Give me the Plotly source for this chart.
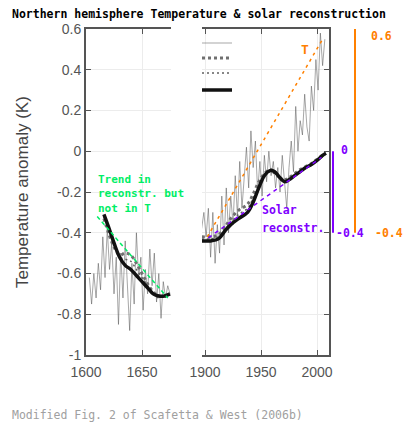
import plotly.graph_objects as go

# ---------------- data ----------------
left_t_years = list(range(1603, 1676, 2))
left_t_vals = [-0.62, -0.75, -0.60, -0.72, -0.55, -0.68, -0.42, -0.62, -0.38, -0.58,
               -0.45, -0.70, -0.52, -0.85, -0.50, -0.72, -0.44, -0.66, -0.88, -0.55,
               -0.75, -0.40, -0.62, -0.52, -0.78, -0.58, -0.70, -0.48, -0.66, -0.50,
               -0.74, -0.60, -0.82, -0.64, -0.72, -0.66, -0.70]

right_t_years = list(range(1897, 2008, 2))
right_t_vals = [-0.38, -0.30, -0.42, -0.28, -0.52, -0.30, -0.55, -0.36, -0.50, -0.22,
                -0.46, -0.18, -0.40, -0.22, -0.36, -0.12, -0.32, -0.05, -0.28, -0.10,
                0.02, -0.18, 0.10, -0.08, 0.05, -0.20, -0.05, -0.22, -0.02, -0.15,
                0.00, -0.12, -0.05, -0.18, -0.08, -0.20, -0.02, -0.15, -0.28, -0.08,
                0.05, -0.10, 0.22, 0.00, 0.15, 0.08, 0.28, 0.12, 0.05, 0.32,
                0.20, 0.45, 0.30, 0.58, 0.42, 0.55]

left_rec_years = [1616, 1620, 1625, 1630, 1635, 1640, 1645, 1650, 1655, 1660, 1665, 1670, 1675]
left_rec_solid = [-0.31, -0.37, -0.45, -0.52, -0.56, -0.58, -0.61, -0.64, -0.67, -0.70, -0.71, -0.71, -0.70]
left_rec_dense = [-0.33, -0.40, -0.47, -0.51, -0.50, -0.51, -0.55, -0.60, -0.65, -0.69, -0.71, -0.71, -0.70]
left_rec_sparse = [-0.32, -0.39, -0.46, -0.52, -0.53, -0.54, -0.58, -0.62, -0.66, -0.70, -0.72, -0.71, -0.70]

right_rec_years = [1897, 1905, 1912, 1918, 1923, 1930, 1938, 1943, 1948, 1953, 1958, 1962,
                   1967, 1971, 1975, 1980, 1985, 1990, 1995, 2000, 2005, 2008]
right_rec_solid = [-0.44, -0.44, -0.43, -0.39, -0.36, -0.33, -0.30, -0.25, -0.18, -0.12, -0.095, -0.10,
                   -0.13, -0.15, -0.14, -0.12, -0.10, -0.08, -0.065, -0.045, -0.02, -0.01]
right_rec_dense = [-0.42, -0.42, -0.41, -0.37, -0.33, -0.29, -0.26, -0.21, -0.15, -0.11, -0.09, -0.10,
                   -0.13, -0.14, -0.13, -0.11, -0.09, -0.075, -0.06, -0.04, -0.02, -0.01]
right_rec_sparse = [-0.43, -0.43, -0.42, -0.38, -0.35, -0.31, -0.28, -0.23, -0.17, -0.12, -0.10, -0.11,
                    -0.14, -0.15, -0.14, -0.12, -0.10, -0.08, -0.065, -0.045, -0.025, -0.015]

green_trend_years = [1610, 1673]
green_trend_vals = [-0.32, -0.72]
t_trend_years = [1902, 2005]
t_trend_vals = [-0.42, 0.55]
solar_trend_years = [1903, 2004]
solar_trend_vals = [-0.425, -0.03]

y_ticks = [0.6, 0.4, 0.2, 0, -0.2, -0.4, -0.6, -0.8, -1]
y_tick_labels = ["0.6", "0.4", "0.2", "0", "-0.2", "-0.4", "-0.6", "-0.8", "-1"]
left_x_ticks = [1600, 1650]
left_x_labels = ["1600", "1650"]
right_x_ticks = [1900, 1950, 2000]
right_x_labels = ["1900", "1950", "2000"]

orange_scale = [-0.4, 0.6]
orange_labels = ["-0.4", "0.6"]
purple_scale = [-0.4, 0]
purple_labels = ["-0.4", "0"]

# ---------------- geometry helpers ----------------
W, H = 410, 430
def px(x):
    return x / W
def py(y):
    return 1 - y / H

MONO = "DejaVu Sans Mono"
SANS = "Liberation Sans"
ORANGE = "#ff8000"
PURPLE = "#8000ff"
GREEN = "#00ee66"

fig = go.Figure()

T_STYLE = dict(color="rgba(80,80,80,0.5)", width=1)
DENSE_STYLE = dict(color="#707070", width=3, dash="dot")
SPARSE_STYLE = dict(color="#606060", width=1.5, dash="2px,3px")
SOLID_STYLE = dict(color="#111111", width=3.5)

# left panel
fig.add_trace(go.Scatter(x=left_t_years, y=left_t_vals, mode="lines", line=T_STYLE,
                         xaxis="x", yaxis="y", showlegend=False))
fig.add_trace(go.Scatter(x=left_rec_years, y=left_rec_dense, mode="lines", line=DENSE_STYLE,
                         line_shape="spline", xaxis="x", yaxis="y", showlegend=False))
fig.add_trace(go.Scatter(x=left_rec_years, y=left_rec_sparse, mode="lines", line=SPARSE_STYLE,
                         line_shape="spline", xaxis="x", yaxis="y", showlegend=False))
fig.add_trace(go.Scatter(x=left_rec_years, y=left_rec_solid, mode="lines", line=SOLID_STYLE,
                         line_shape="spline", xaxis="x", yaxis="y", showlegend=False))
fig.add_trace(go.Scatter(x=green_trend_years, y=green_trend_vals, mode="lines",
                         line=dict(color=GREEN, width=1.5, dash="4px,3px"),
                         xaxis="x", yaxis="y", showlegend=False))

# right panel (each series owns a small, text-less legend entry)
fig.add_trace(go.Scatter(x=right_t_years, y=right_t_vals, mode="lines", name=" ",
                         line=dict(color="rgba(80,80,80,0.5)", width=1), xaxis="x2", yaxis="y2",
                         legend="legend"))
fig.add_trace(go.Scatter(x=right_rec_years, y=right_rec_dense, mode="lines", name=" ",
                         line=DENSE_STYLE, line_shape="spline", xaxis="x2", yaxis="y2",
                         legend="legend2"))
fig.add_trace(go.Scatter(x=right_rec_years, y=right_rec_sparse, mode="lines", name=" ",
                         line=SPARSE_STYLE, line_shape="spline", xaxis="x2", yaxis="y2",
                         legend="legend3"))
fig.add_trace(go.Scatter(x=right_rec_years, y=right_rec_solid, mode="lines", name=" ",
                         line=SOLID_STYLE, line_shape="spline", xaxis="x2", yaxis="y2",
                         legend="legend4"))
fig.add_trace(go.Scatter(x=t_trend_years, y=t_trend_vals, mode="lines",
                         line=dict(color=ORANGE, width=1.5, dash="3px,4px"),
                         xaxis="x2", yaxis="y2", showlegend=False))
fig.add_trace(go.Scatter(x=solar_trend_years, y=solar_trend_vals, mode="lines",
                         line=dict(color=PURPLE, width=1.5, dash="4px,4px"),
                         xaxis="x2", yaxis="y2", showlegend=False))

ydom = [py(355), py(29)]
axis_common = dict(showline=True, linecolor="#555", linewidth=2, ticks="inside",
                   ticklen=5, tickcolor="#555", showgrid=True, gridcolor="#ececec",
                   zeroline=False, automargin=False,
                   tickfont=dict(family=SANS, size=14, color="#555"))

def legend_at(ycenter):
    return dict(x=px(197), y=py(ycenter), xanchor="left", yanchor="middle",
                bgcolor="rgba(0,0,0,0)", font=dict(size=8), itemwidth=30)

fig.update_layout(
    width=W, height=H, autosize=False,
    margin=dict(l=0, r=0, t=0, b=0),
    paper_bgcolor="white", plot_bgcolor="white",
    template="none",
    xaxis=dict(domain=[px(86), px(171)], range=[1600, 1600 + 85 * 50 / 56],
               tickvals=left_x_ticks, ticktext=left_x_labels, mirror="ticks",
               anchor="y", ticklabelstandoff=3, **axis_common),
    yaxis=dict(domain=ydom, range=[-1, 0.6], tickvals=y_ticks, ticktext=y_tick_labels,
               anchor="x", mirror=False, **axis_common),
    xaxis2=dict(domain=[px(202), px(329)], range=[1900 - 3 * 50 / 56, 1900 + 124 * 50 / 56],
                tickvals=right_x_ticks, ticktext=right_x_labels, mirror="ticks",
                anchor="y2", ticklabelstandoff=3, **axis_common),
    yaxis2=dict(domain=ydom, range=[-1, 0.6], tickvals=y_ticks, showticklabels=False,
                anchor="x2", side="right", mirror=False, **axis_common),
    showlegend=True,
    legend=legend_at(43),
    legend2=legend_at(58),
    legend3=legend_at(73),
    legend4=legend_at(90),
)

# scale bars at the right
shapes = [
    dict(type="line", xref="paper", yref="y", x0=px(355), x1=px(355),
         y0=orange_scale[0], y1=orange_scale[1], line=dict(color=ORANGE, width=2)),
    dict(type="line", xref="paper", yref="y", x0=px(333), x1=px(333),
         y0=purple_scale[0], y1=purple_scale[1], line=dict(color=PURPLE, width=2)),
]
fig.update_layout(shapes=shapes)

ann = []
def label(text, x, y, color, size=11.5, xanchor="center", xref="paper", yref="y",
          yshift=0, align="left"):
    ann.append(dict(text=f"<b>{text}</b>", x=x, y=y, xref=xref, yref=yref,
                    xanchor=xanchor, yanchor="middle", showarrow=False, yshift=yshift,
                    align=align, font=dict(family=MONO, size=size, color=color)))

label(orange_labels[1], px(381), orange_scale[1], ORANGE, yshift=-7)
label(orange_labels[0], px(389), orange_scale[0], ORANGE)
label(purple_labels[1], px(344), purple_scale[1], PURPLE, yshift=1)
label(purple_labels[0], px(350), purple_scale[0], PURPLE)

# text labels in the panels
label("T", 1989.3, 0.497, ORANGE, size=13, xref="x2", yref="y2")
label("Solar", 1949.1, -0.289, PURPLE, xanchor="left", xref="x2", yref="y2")
label("reconstr.", 1949.1, -0.377, PURPLE, xanchor="left", xref="x2", yref="y2")
label("Trend in<br>reconstr. but<br>not in T", 1609.3, -0.208, GREEN, size=11,
      xanchor="left", xref="x", yref="y")

# title, footnote, y title
ann.append(dict(text="<b>Northern hemisphere Temperature &amp; solar reconstruction</b>",
                x=px(10), y=py(14), xref="paper", yref="paper", xanchor="left", yanchor="middle",
                showarrow=False, font=dict(family=MONO, size=11.5, color="black")))
ann.append(dict(text="Modified Fig. 2 of Scafetta &amp; West (2006b)",
                x=px(10), y=py(415), xref="paper", yref="paper", xanchor="left", yanchor="middle",
                showarrow=False, font=dict(family=MONO, size=11.5, color="#a0a0a0")))
ann.append(dict(text="Temperature anomaly (K)", textangle=-90,
                x=px(22), y=py(192), xref="paper", yref="paper", xanchor="center", yanchor="middle",
                showarrow=False, font=dict(family=SANS, size=17, color="#444")))
fig.update_layout(annotations=ann)

fig.write_html("out.html", config={"displayModeBar": False},
               post_script="document.body.style.margin='0';")
